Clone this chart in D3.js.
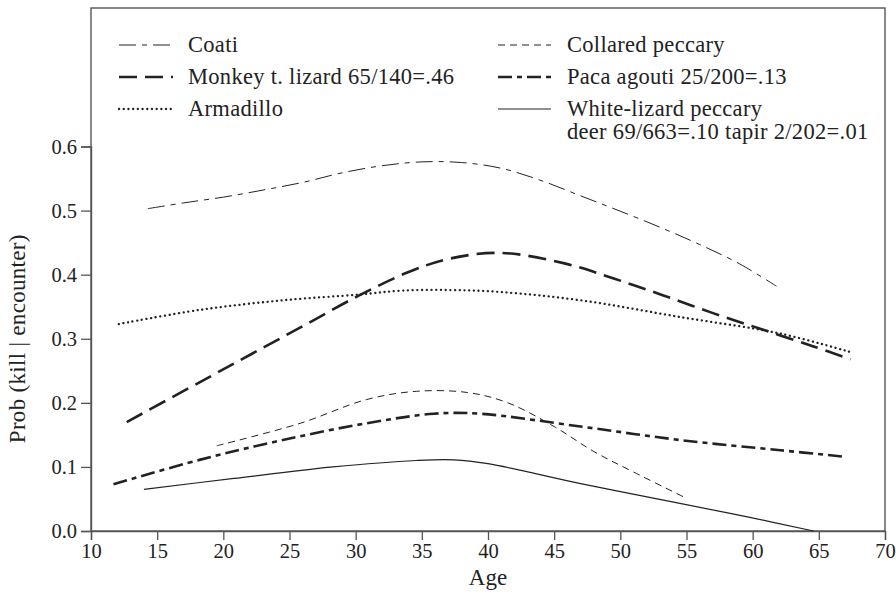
<!DOCTYPE html>
<html>
<head>
<meta charset="utf-8">
<script src="https://cdn.jsdelivr.net/npm/d3@7/dist/d3.min.js"></script>
<style>
  body { margin: 0; background: #fff; }
  text { font-family: "Liberation Serif", "DejaVu Serif", serif; fill: #222; }
</style>
</head>
<body>
<div id="chart"></div>
<script>
// values: [age, prob]
const coati = [[14.3, 0.503], [17, 0.512], [20, 0.521], [23, 0.532], [26, 0.544], [29, 0.559], [32, 0.570],
  [35, 0.576], [38, 0.575], [41, 0.566], [44, 0.547], [47, 0.523], [50, 0.499], [53, 0.474],
  [56, 0.447], [59, 0.417], [61.8, 0.382]];
const monkey = [[12.7, 0.170], [18.2, 0.232], [22.2, 0.277], [26.3, 0.323], [30.3, 0.368], [34.1, 0.405],
  [37.1, 0.425], [40.9, 0.434], [45.7, 0.418], [49.5, 0.394], [53.2, 0.368],
  [57.0, 0.340], [60.8, 0.314], [64.6, 0.288], [67.4, 0.268]];
const armadillo = [[12.1, 0.323], [18.2, 0.345], [24.5, 0.360], [30.3, 0.369], [33.4, 0.375], [37.1, 0.376],
  [40.9, 0.373], [47.0, 0.360], [54.5, 0.334], [62.1, 0.308], [67.6, 0.278]];
const collared = [[19.5, 0.133], [25.8, 0.168], [30.8, 0.205], [34.6, 0.218], [38.5, 0.216], [41.5, 0.200],
  [45, 0.163], [48, 0.124], [51, 0.092], [55.0, 0.051]];
const paca = [[11.7, 0.073], [18.2, 0.111], [24.5, 0.142], [30.8, 0.168], [35.9, 0.183], [39.4, 0.183],
  [47.0, 0.163], [54.5, 0.142], [62.1, 0.126], [66.9, 0.116]];
const whiteLizard = [[14.0, 0.065], [20.8, 0.082], [28.3, 0.100], [34.6, 0.110], [37.4, 0.111], [40, 0.105],
  [47.0, 0.074], [54.5, 0.043], [59.6, 0.022], [64.6, 0.0]];

const xTicks = d3.range(10, 71, 5);
const yTicks = [0, 0.1, 0.2, 0.3, 0.4, 0.5, 0.6];

const series = [
  { data: coati, dash: "17,6,5,6", w: 1, legend: ["Coati"], col: 0, row: 0 },
  { data: monkey, dash: "18,8", w: 2.6, legend: ["Monkey t. lizard 65/140=.46"], col: 0, row: 1 },
  { data: armadillo, dash: "0.1,4.6", w: 2.3, cap: "round", legend: ["Armadillo"], col: 0, row: 2 },
  { data: collared, dash: "7,5", w: 1, legend: ["Collared peccary"], col: 1, row: 0 },
  { data: paca, dash: "14,5,5,5", w: 2.6, legend: ["Paca agouti 25/200=.13"], col: 1, row: 1 },
  { data: whiteLizard, dash: null, w: 1.2, legend: ["White-lizard peccary", "deer 69/663=.10 tapir 2/202=.01"], col: 1, row: 2 }
];

const width = 896, height = 597;
const margin = { top: 8, right: 11, bottom: 66, left: 91 };
const fontStack = '"Liberation Serif", "DejaVu Serif", serif';

const svg = d3.select("#chart").append("svg")
  .attr("width", width).attr("height", height);

const x = d3.scaleLinear().domain([10, 70]).range([margin.left, width - margin.right]);
const y = d3.scaleLinear().domain([0, 0.6]).range([height - margin.bottom, height - margin.bottom - 384.5]);

const frameColor = "#555";
const inkColor = "#222";

// frame
svg.append("rect")
  .attr("x", margin.left).attr("y", margin.top)
  .attr("width", width - margin.right - margin.left)
  .attr("height", height - margin.bottom - margin.top)
  .attr("fill", "none").attr("stroke", frameColor).attr("stroke-width", 1.4);

const xAxis = svg.append("g")
  .attr("transform", `translate(0,${height - margin.bottom})`)
  .call(d3.axisBottom(x).tickValues(xTicks).tickSize(9).tickPadding(3).tickFormat(d3.format("d")));
const yAxis = svg.append("g")
  .attr("transform", `translate(${margin.left},0)`)
  .call(d3.axisLeft(y).tickValues(yTicks).tickSize(10).tickPadding(4).tickFormat(d3.format(".1f")));

[xAxis, yAxis].forEach(g => {
  g.select(".domain").attr("stroke", frameColor).attr("stroke-width", 1.4);
  g.selectAll(".tick line").attr("stroke", frameColor).attr("stroke-width", 1.3);
  g.selectAll(".tick text")
    .attr("fill", inkColor)
    .style("font-family", fontStack)
    .style("font-size", "20.5px");
});

svg.append("text")
  .attr("x", (x(10) + x(70)) / 2).attr("y", 585)
  .attr("text-anchor", "middle").style("font-size", "23px")
  .text("Age");

svg.append("text")
  .attr("transform", `translate(25,${y(0.3)}) rotate(-90)`)
  .attr("text-anchor", "middle").style("font-size", "23px")
  .style("letter-spacing", "0.3px")
  .text("Prob (kill | encounter)");

// curves
const line = d3.line()
  .x(d => x(d[0])).y(d => y(d[1]))
  .curve(d3.curveCatmullRom.alpha(0.5));

svg.append("g").selectAll("path")
  .data(series)
  .join("path")
  .attr("d", d => line(d.data))
  .attr("fill", "none")
  .attr("stroke", inkColor)
  .attr("stroke-width", d => d.w)
  .attr("stroke-dasharray", d => d.dash)
  .attr("stroke-linecap", d => d.cap || "butt");

// legend
const legendCols = [{ x0: 119, x1: 173, tx: 188 }, { x0: 498, x1: 551, tx: 567 }];
const rowY = [45, 77, 109];

const legend = svg.append("g").selectAll("g")
  .data(series)
  .join("g");

legend.append("line")
  .attr("x1", d => legendCols[d.col].x0)
  .attr("x2", d => legendCols[d.col].x1)
  .attr("y1", d => rowY[d.row]).attr("y2", d => rowY[d.row])
  .attr("stroke", inkColor)
  .attr("stroke-width", d => d.w)
  .attr("stroke-dasharray", d => d.dash)
  .attr("stroke-linecap", d => d.cap || "butt");

legend.each(function (d) {
  const t = d3.select(this).append("text")
    .attr("x", legendCols[d.col].tx)
    .attr("y", rowY[d.row] + 7)
    .style("font-size", "22.5px")
    .style("letter-spacing", "0.3px");
  d.legend.forEach((s, i) => {
    t.append("tspan")
      .attr("x", legendCols[d.col].tx)
      .attr("dy", i === 0 ? 0 : 23)
      .text(s);
  });
});
</script>
</body>
</html>
